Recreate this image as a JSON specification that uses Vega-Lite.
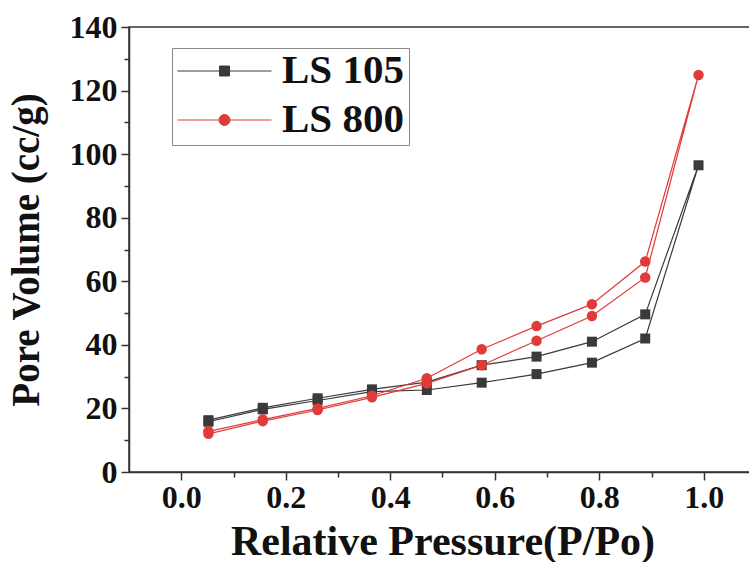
{
  "$schema": "https://vega.github.io/schema/vega-lite/v6.json",
  "autosize": {"type": "none"},
  "width": 627,
  "height": 445,
  "padding": {"left": 129, "top": 27, "right": 0, "bottom": 90},
  "background": "white",
  "config": {
    "view": {"stroke": "#333", "strokeWidth": 1.5},
    "axis": {
      "labelFont": "Liberation Serif",
      "labelFontWeight": "bold",
      "labelFontSize": 32,
      "labelColor": "#111",
      "titleFont": "Liberation Serif",
      "titleFontWeight": "bold",
      "titleColor": "#111",
      "domainColor": "#333",
      "domainWidth": 1.5,
      "tickColor": "#333",
      "tickWidth": 1.5,
      "grid": false
    }
  },
  "data": {
    "values": [
      {"series": "LS 105", "idx": 1, "p": 0.052, "v": 15.8},
      {"series": "LS 105", "idx": 2, "p": 0.156, "v": 19.7},
      {"series": "LS 105", "idx": 3, "p": 0.261, "v": 22.5},
      {"series": "LS 105", "idx": 4, "p": 0.365, "v": 25.3},
      {"series": "LS 105", "idx": 5, "p": 0.47, "v": 25.8},
      {"series": "LS 105", "idx": 6, "p": 0.575, "v": 28.1},
      {"series": "LS 105", "idx": 7, "p": 0.68, "v": 30.8},
      {"series": "LS 105", "idx": 8, "p": 0.786, "v": 34.4},
      {"series": "LS 105", "idx": 9, "p": 0.888, "v": 42.0},
      {"series": "LS 105", "idx": 10, "p": 0.99, "v": 96.5},
      {"series": "LS 105", "idx": 11, "p": 0.888, "v": 49.6},
      {"series": "LS 105", "idx": 12, "p": 0.786, "v": 41.0},
      {"series": "LS 105", "idx": 13, "p": 0.68, "v": 36.3},
      {"series": "LS 105", "idx": 14, "p": 0.575, "v": 33.6},
      {"series": "LS 105", "idx": 15, "p": 0.47, "v": 28.3},
      {"series": "LS 105", "idx": 16, "p": 0.365, "v": 26.0},
      {"series": "LS 105", "idx": 17, "p": 0.261, "v": 23.2},
      {"series": "LS 105", "idx": 18, "p": 0.156, "v": 20.2},
      {"series": "LS 105", "idx": 19, "p": 0.052, "v": 16.3},
      {"series": "LS 800", "idx": 1, "p": 0.052, "v": 12.0},
      {"series": "LS 800", "idx": 2, "p": 0.156, "v": 16.0},
      {"series": "LS 800", "idx": 3, "p": 0.261, "v": 19.5},
      {"series": "LS 800", "idx": 4, "p": 0.365, "v": 23.5},
      {"series": "LS 800", "idx": 5, "p": 0.47, "v": 27.9},
      {"series": "LS 800", "idx": 6, "p": 0.575, "v": 33.6},
      {"series": "LS 800", "idx": 7, "p": 0.68, "v": 41.3},
      {"series": "LS 800", "idx": 8, "p": 0.786, "v": 49.1},
      {"series": "LS 800", "idx": 9, "p": 0.888, "v": 61.2},
      {"series": "LS 800", "idx": 10, "p": 0.99, "v": 124.9},
      {"series": "LS 800", "idx": 11, "p": 0.888, "v": 66.2},
      {"series": "LS 800", "idx": 12, "p": 0.786, "v": 52.8},
      {"series": "LS 800", "idx": 13, "p": 0.68, "v": 45.9},
      {"series": "LS 800", "idx": 14, "p": 0.575, "v": 38.6},
      {"series": "LS 800", "idx": 15, "p": 0.47, "v": 29.5},
      {"series": "LS 800", "idx": 16, "p": 0.365, "v": 24.0},
      {"series": "LS 800", "idx": 17, "p": 0.261, "v": 20.0},
      {"series": "LS 800", "idx": 18, "p": 0.156, "v": 16.5},
      {"series": "LS 800", "idx": 19, "p": 0.052, "v": 12.8}
    ]
  },
  "encoding": {
    "x": {
      "field": "p", "type": "quantitative",
      "scale": {"domain": [-0.1, 1.1], "nice": false, "zero": false},
      "axis": {
        "title": "Relative Pressure(P/Po)",
        "titleFontSize": 42,
        "values": [0, 0.1, 0.2, 0.3, 0.4, 0.5, 0.6, 0.7, 0.8, 0.9, 1.0],
        "labelExpr": "round(datum.value*10) % 2 == 0 ? format(datum.value, '.1f') : ''",
        "tickSize": {"condition": {"test": "round(datum.value*10) % 2 != 0", "value": 5}, "value": 8},
        "labelPadding": 2,
        "titlePadding": 8,
        "labelFlush": false
      }
    },
    "y": {
      "field": "v", "type": "quantitative",
      "scale": {"domain": [0, 140], "nice": false},
      "axis": {
        "title": "Pore Volume (cc/g)",
        "titleFontSize": 39,
        "values": [0, 10, 20, 30, 40, 50, 60, 70, 80, 90, 100, 110, 120, 130, 140],
        "labelExpr": "datum.value % 20 == 0 ? format(datum.value, 'd') : ''",
        "tickSize": {"condition": {"test": "datum.value % 20 != 0", "value": 5}, "value": 8},
        "labelPadding": 4,
        "titlePadding": 23,
        "labelFlush": false
      }
    },
    "color": {
      "field": "series", "type": "nominal",
      "scale": {"domain": ["LS 105", "LS 800"], "range": ["#3a3a3a", "#df3b3b"]},
      "legend": {
        "orient": "none",
        "legendX": 43,
        "legendY": 21,
        "title": null,
        "strokeColor": "#888",
        "padding": 5,
        "symbolSize": 8836,
        "clipHeight": 36,
        "rowPadding": 8,
        "labelFont": "Liberation Serif",
        "labelFontWeight": "bold",
        "labelFontSize": 41,
        "labelColor": "#111",
        "labelOffset": 10,
        "labelLimit": 400,
        "symbolStrokeWidth": 1,
        "encode": {
          "symbols": {
            "update": {
              "shape": {"signal": "datum.value === 'LS 105' ? 'M-1,0H1M-0.106,-0.106H0.106V0.106H-0.106Z' : 'M-1,0H1M0.117,0A0.117,0.117,0,1,1,-0.117,0A0.117,0.117,0,1,1,0.117,0Z'"},
              "fill": {"signal": "datum.value === 'LS 105' ? '#3a3a3a' : '#df3b3b'"},
              "stroke": {"signal": "datum.value === 'LS 105' ? '#555' : '#d55'"},
              "opacity": {"value": 1}
            }
          }
        }
      }
    },
    "order": {"field": "idx", "type": "quantitative"}
  },
  "layer": [
    {
      "mark": {"type": "line", "strokeWidth": 1.2}
    },
    {
      "transform": [{"filter": "datum.series === 'LS 105'"}],
      "mark": {"type": "point", "shape": "square", "filled": true, "opacity": 1, "size": 100}
    },
    {
      "transform": [{"filter": "datum.series === 'LS 800'"}],
      "mark": {"type": "point", "shape": "circle", "filled": true, "opacity": 1, "size": 110}
    }
  ]
}
